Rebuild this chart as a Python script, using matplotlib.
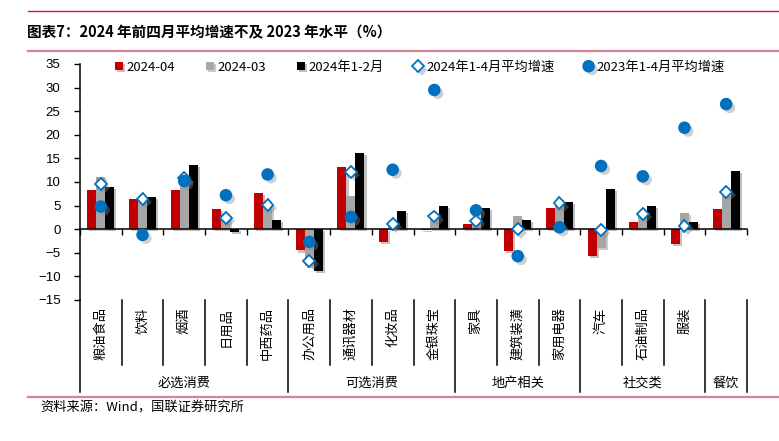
import numpy as np
import matplotlib
matplotlib.use("Agg")
import matplotlib.pyplot as plt
import matplotlib.patheffects as pe
import matplotlib.transforms as mtransforms
from matplotlib.lines import Line2D

plt.rcParams['font.family'] = ['Noto Sans CJK SC', 'DejaVu Sans']
plt.rcParams['axes.unicode_minus'] = True

# data
categories = ['粮油食品', '饮料', '烟酒', '日用品', '中西药品',
              '办公用品', '通讯器材', '化妆品', '金银珠宝',
              '家具', '建筑装潢', '家用电器',
              '汽车', '石油制品', '服装', '']
group_names = ['必选消费', '可选消费', '地产相关', '社交类', '餐饮']
group_sizes = [5, 4, 3, 3, 1]

apr_2024 = [8.4, 6.4, 8.3, 4.3, 7.7, -4.5, 13.2, -2.8, -0.1, 1.1, -4.6, 4.4, -5.7, 1.6, -3.1, 4.3]
mar_2024 = [11.0, 6.3, 10.0, 3.2, 5.3, -7.8, 7.1, 1.8, 2.6, 1.6, 2.7, 5.2, -3.9, 2.8, 3.5, 7.1]
janfeb_2024 = [9.0, 6.9, 13.6, -0.6, 2.0, -8.9, 16.2, 3.9, 4.9, 4.5, 2.0, 5.7, 8.6, 4.9, 1.6, 12.4]
avg_2024 = [9.5, 6.4, 10.8, 2.4, 5.2, -6.7, 12.2, 1.1, 2.7, 1.8, 0.0, 5.5, -0.1, 3.3, 0.7, 7.9]
avg_2023 = [4.8, -1.2, 10.2, 7.2, 11.6, -2.7, 2.6, 12.6, 29.5, 4.0, -5.7, 0.4, 13.4, 11.2, 21.5, 26.5]

yticks = list(range(-15, 40, 5))

W, H = 779, 441
fig = plt.figure(figsize=(W / 100, H / 100), dpi=100)
ax = fig.add_axes([80 / W, 1 - 300 / H, 667 / W, 236 / H])

x = np.arange(len(categories))
w = 0.216
bar_fx = [pe.SimplePatchShadow(offset=(1.5, -1.5), alpha=0.25), pe.Normal()]
b1 = ax.bar(x - w, apr_2024, w, color='#C00000', zorder=2, label='2024-04')
b2 = ax.bar(x, mar_2024, w, color='#A6A6A6', zorder=2, label='2024-03')
b3 = ax.bar(x + w, janfeb_2024, w, color='#000000', zorder=2, label='2024年1-2月')
for bars in (b1, b2, b3):
    for p in bars:
        p.set_path_effects(bar_fx)

mk_fx = [pe.SimplePatchShadow(offset=(2.5, -2.5), shadow_rgbFace='#888888', alpha=0.4), pe.Normal()]
l1, = ax.plot(x, avg_2024, ls='none', marker='D', ms=6, mfc='white', mec='#0070C0',
              mew=1.3, zorder=4, path_effects=mk_fx, label='2024年1-4月平均增速')
l2, = ax.plot(x, avg_2023, ls='none', marker='o', ms=8, color='#0070C0',
              zorder=5, path_effects=mk_fx, label='2023年1-4月平均增速')

ax.set_xlim(-0.5, len(categories) - 0.5)
ax.set_ylim(-15, 35)
ax.set_yticks(yticks)
ax.tick_params(axis='y', direction='out', length=4, width=1, pad=10, labelsize=9.5)
for t in ax.get_yticklabels():
    t.set_fontfamily(['Liberation Sans', 'DejaVu Sans'])

for s in ('top', 'right'):
    ax.spines[s].set_visible(False)
ax.spines['left'].set_linewidth(1.1)
ax.spines['bottom'].set_position(('data', 0))
ax.spines['bottom'].set_linewidth(1.1)
ax.set_xticks(np.arange(-0.5, len(categories), 1.0))
ax.set_xticklabels([])
ax.tick_params(axis='x', direction='out', length=4, width=1)

# category axis below the plot
trans = mtransforms.blended_transform_factory(ax.transData, ax.transAxes)
bounds = np.cumsum([0] + group_sizes) - 0.5
for k in range(len(categories) + 1):
    xb = k - 0.5
    y_end = -0.39 if xb in bounds else -0.275
    ax.plot([xb, xb], [0, y_end], color='black', lw=1.1, transform=trans, clip_on=False)

for i, c in enumerate(categories):
    ax.text(i, -0.03, c, rotation=90, ha='center', va='top', fontsize=9.5,
            transform=trans)

for name, lo, hi in zip(group_names, bounds[:-1], bounds[1:]):
    ax.text((lo + hi) / 2, -0.352, name, ha='center', va='center', fontsize=9.5,
            transform=trans)

fig.legend(handles=[b1, b2, b3, l1, l2], loc='center', bbox_to_anchor=(0.539, 0.848),
           ncol=5, frameon=False, fontsize=9.5, handlelength=0.6, handleheight=0.55,
           handletextpad=0.3, columnspacing=2.3, borderaxespad=0)

# title block
fig.text(27 / W, 1 - 32 / H, '图表7：2024 年前四月平均增速不及 2023 年水平（%）',
         fontsize=10.5, fontweight='bold', va='center')
fig.add_artist(Line2D([28 / W, 1], [1 - 10.5 / H] * 2, color='#D6153F', lw=1))
fig.add_artist(Line2D([28 / W, 1], [1 - 51 / H] * 2, color='#D98294', lw=1.6))
fig.add_artist(Line2D([28 / W, 1], [1 - 396.5 / H] * 2, color='#D98294', lw=1.6))
fig.text(40 / W, 1 - 408 / H, '资料来源：Wind，国联证券研究所', fontsize=9.5, va='center')

fig.savefig('out.png', dpi=100)
